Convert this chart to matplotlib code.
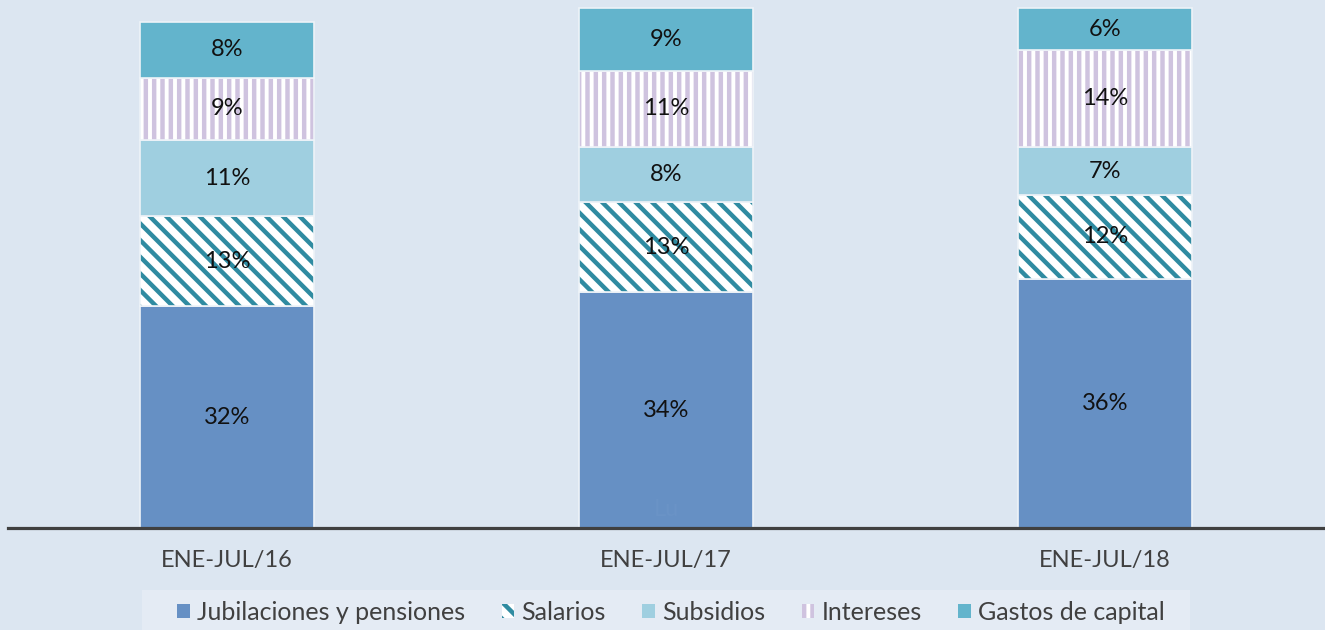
import matplotlib.pyplot as plt
from matplotlib.patches import Patch, Rectangle
import numpy as np

periodos = ['ENE-JUL/16', 'ENE-JUL/17', 'ENE-JUL/18']
series = ['Jubilaciones y pensiones', 'Salarios', 'Subsidios', 'Intereses', 'Gastos de capital']
jubilaciones = [32, 34, 36]
salarios = [13, 13, 12]
subsidios = [11, 8, 7]
intereses = [9, 11, 14]
gastos_capital = [8, 9, 6]

valores = [jubilaciones, salarios, subsidios, intereses, gastos_capital]
colores = ['#6690c4', '#2f8ba1', '#9fcfe0', '#cfc3df', '#63b4cc']
rellenos = [True, False, True, False, True]
tramas = [None, '\\\\', None, '||', None]

fondo = '#dce6f1'
plt.rcParams['font.family'] = ['Lato', 'DejaVu Sans']
plt.rcParams['hatch.linewidth'] = 3.2

fig = plt.figure(figsize=(13.25, 6.3), dpi=100, facecolor=fondo)
ax = fig.add_axes([8/1325, 102/630, 1317/1325, 528/630])
ax.set_facecolor(fondo)

x = np.arange(len(periodos))
ancho = 0.396
base = np.zeros(len(periodos))
for vals, col, lleno, trama in zip(valores, colores, rellenos, tramas):
    vals = np.array(vals, dtype=float)
    if lleno:
        ax.bar(x, vals, ancho, bottom=base, color=col, linewidth=0, clip_on=False)
    else:
        ax.bar(x, vals, ancho, bottom=base, facecolor='white', edgecolor=col,
               hatch=trama, linewidth=0, clip_on=False)
    ax.bar(x, vals, ancho, bottom=base, fill=False, edgecolor='#eef3f8',
           linewidth=1.2, clip_on=False)
    for xi, b, v in zip(x, base, vals):
        ax.text(xi, b + v / 2, '%d%%' % v, ha='center', va='center',
                fontsize=17, color='#111111')
    base += vals

# marca de agua casi invisible
ax.text(1, 2.7, 'Lu', ha='center', va='center', fontsize=17, color='#6a93c6')

ax.set_xlim(-0.4989, 2.501)
ax.set_ylim(0, 76.2)
ax.set_xticks(x)
ax.set_xticklabels(periodos, fontsize=17, color='#404040')
ax.tick_params(axis='x', length=0, pad=15.5)
ax.set_yticks([])
for s in ['top', 'right', 'left']:
    ax.spines[s].set_visible(False)
ax.spines['bottom'].set_color('#404040')
ax.spines['bottom'].set_linewidth(2.3)

# caja de la leyenda
fig.patches.append(Rectangle((142/1325, 0), (1190-142)/1325, 40/630,
                             transform=fig.transFigure, facecolor='#e4ebf4',
                             edgecolor='none', zorder=0))

manijas = []
for nombre, col, lleno, trama in zip(series, colores, rellenos, tramas):
    if lleno:
        manijas.append(Patch(facecolor=col, edgecolor='none', label=nombre))
    else:
        manijas.append(Patch(facecolor='white', edgecolor=col, hatch=trama,
                             linewidth=0, label=nombre))
ley = fig.legend(handles=manijas, loc='center', bbox_to_anchor=(671/1325, 1 - 612/630),
                 ncol=5, fontsize=18, frameon=False,
                 handlelength=0.5, handleheight=0.5, handletextpad=0.3,
                 columnspacing=1.45, borderpad=0.2)
for t in ley.get_texts():
    t.set_color('#404040')

fig.savefig('out.png', dpi=100, facecolor=fondo)
